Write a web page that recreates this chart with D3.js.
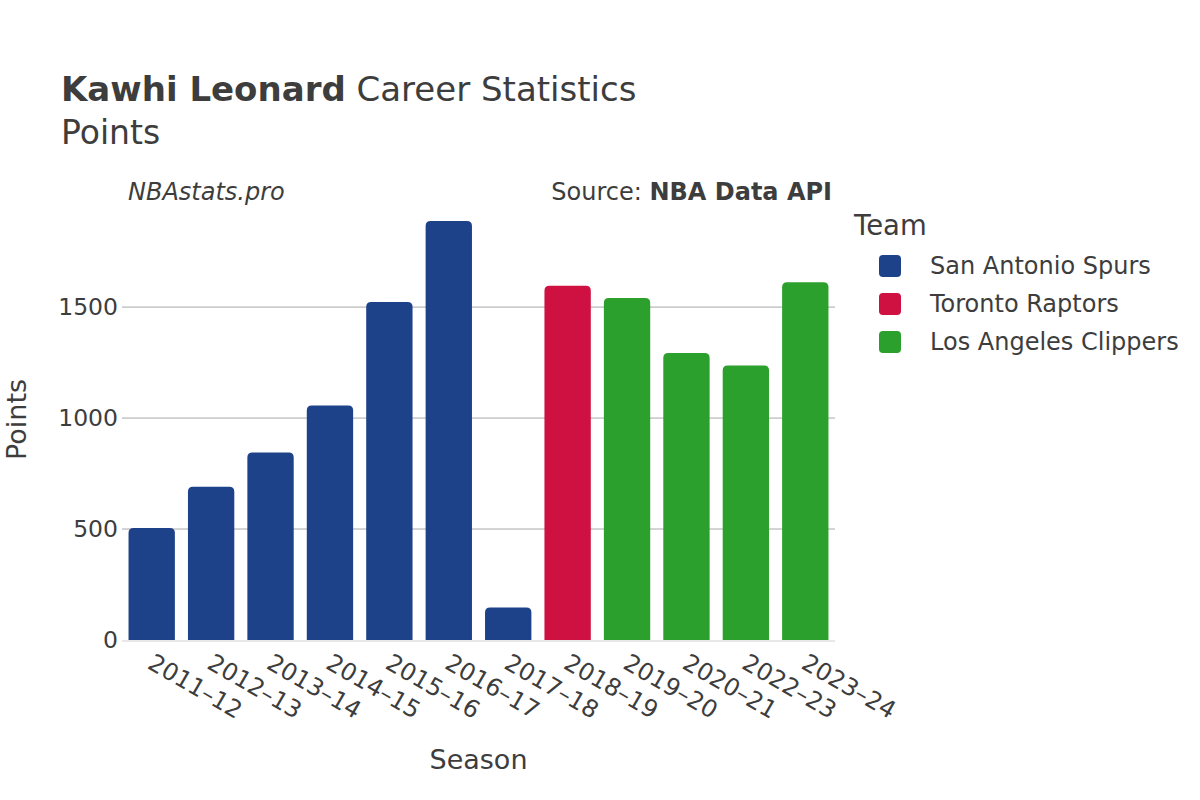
<!DOCTYPE html>
<html><head><meta charset="utf-8">
<script src="https://cdn.jsdelivr.net/npm/d3@7"></script>
<style>body{margin:0;background:#fff;} svg{display:block;font-family:"DejaVu Sans",sans-serif;}</style>
</head><body>
<svg id="c" width="1200" height="800"></svg>
<script>
const seasons = ["2011-12","2012-13","2013-14","2014-15","2015-16","2016-17","2017-18","2018-19","2019-20","2020-21","2022-23","2023-24"];
const points = [505, 691, 845, 1057, 1523, 1888, 146, 1596, 1541, 1293, 1237, 1612];
const teams = ["San Antonio Spurs","San Antonio Spurs","San Antonio Spurs","San Antonio Spurs","San Antonio Spurs","San Antonio Spurs","San Antonio Spurs","Toronto Raptors","Los Angeles Clippers","Los Angeles Clippers","Los Angeles Clippers","Los Angeles Clippers"];
const teamNames = ["San Antonio Spurs","Toronto Raptors","Los Angeles Clippers"];
const teamColors = ["#1d428a","#ce1141","#2ca02c"];
const yTicks = [0, 500, 1000, 1500];

const svg = d3.select("#c");
const txt = "#3d3d3d";
const L = 122, R = 835, T = 199, B = 640;
const x = d3.scaleBand().domain(seasons).range([L, R]).paddingInner(0.22).paddingOuter(0.11);
const y = d3.scaleLinear().domain([0, 1987]).range([B, T]);
const color = d3.scaleOrdinal().domain(teamNames).range(teamColors);

// grid
svg.append("g").selectAll("line").data(yTicks.filter(d=>d>0)).join("line")
  .attr("x1", L).attr("x2", R).attr("y1", d=>y(d)).attr("y2", d=>y(d))
  .attr("stroke", "#a8a8a8").attr("stroke-width", 1);

// bars with rounded top
const r = 5;
svg.append("g").selectAll("path").data(seasons).join("path")
  .attr("fill", (d,i)=>color(teams[i]))
  .attr("d", (d,i)=>{
    const x0 = x(d), w = x.bandwidth(), y0 = y(points[i]), yb = y(0);
    const rr = Math.min(r, (yb-y0)/2);
    return `M${x0},${yb}V${y0+rr}Q${x0},${y0} ${x0+rr},${y0}H${x0+w-rr}Q${x0+w},${y0} ${x0+w},${y0+rr}V${yb}Z`;
  });

// zero line
svg.append("line").attr("x1", L).attr("x2", R).attr("y1", y(0)+1).attr("y2", y(0)+1)
  .attr("stroke", "#e8e8e8").attr("stroke-width", 2);

// y ticks
svg.append("g").selectAll("text").data(yTicks).join("text")
  .attr("x", L-4).attr("y", d=>y(d)).attr("dy", "0.35em").attr("text-anchor","end")
  .attr("font-size", 23.5).attr("fill", txt).text(d=>d);

// x ticks
svg.append("g").selectAll("text").data(seasons).join("text")
  .attr("transform", d=>`translate(${x(d)+x.bandwidth()/2+3},${B+13}) rotate(30)`)
  .attr("font-size", 24).attr("fill", txt).attr("dy","0.7em").text(d=>d.replace("-","\u2013"));

// axis titles
svg.append("text").attr("x", (L+R)/2).attr("y", 769).attr("text-anchor","middle")
  .attr("font-size", 27).attr("fill", txt).text("Season");
svg.append("text").attr("transform", `translate(26,${(T+B)/2}) rotate(-90)`).attr("text-anchor","middle")
  .attr("font-size", 27).attr("fill", txt).text("Points");

// title
const t = svg.append("text").attr("x", 61).attr("y", 101).attr("font-size", 34).attr("fill", txt);
t.append("tspan").attr("font-weight","bold").text("Kawhi Leonard");
t.append("tspan").text(" Career Statistics");
svg.append("text").attr("x", 61).attr("y", 144).attr("font-size", 33).attr("fill", txt).text("Points");

svg.append("text").attr("x", 128).attr("y", 200).attr("font-size", 24).attr("font-style","italic").attr("fill", txt).text("NBAstats.pro");
const s = svg.append("text").attr("x", 832).attr("y", 200).attr("font-size", 24).attr("text-anchor","end").attr("fill", txt);
s.append("tspan").text("Source: ");
s.append("tspan").attr("font-weight","bold").text("NBA Data API");

// legend
svg.append("text").attr("x", 854).attr("y", 235).attr("font-size", 27.5).attr("fill", txt).text("Team");
const lg = svg.append("g").selectAll("g").data(teamNames).join("g")
  .attr("transform", (d,i)=>`translate(879,${266+i*38})`);
lg.append("rect").attr("x",0).attr("y",-11).attr("width",22).attr("height",22).attr("rx",4)
  .attr("fill", d=>color(d));
lg.append("text").attr("x", 51).attr("y", 0).attr("dy","0.35em").attr("font-size", 24).attr("fill", txt).text(d=>d);
</script>
</body></html>
